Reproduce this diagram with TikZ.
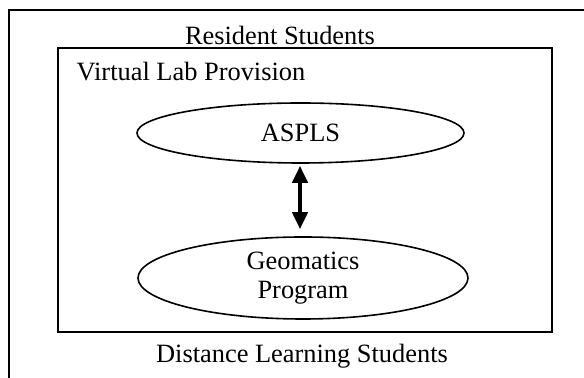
\documentclass[tikz,border=0pt]{standalone}
\usepackage{fontspec}
\setmainfont{Liberation Serif}
\usetikzlibrary{shapes.geometric,arrows.meta}

\begin{document}
\begin{tikzpicture}[x=0.5pt,y=0.5pt,yscale=-1,xscale=1,
  font=\fontsize{13.2}{14.5}\selectfont,
  oval/.style={draw,ellipse,line width=0.8pt,inner sep=0pt,align=center}]
\useasboundingbox (0,0) rectangle (584,378);

%Shape: Rectangle (outer, cut off at right and bottom)
\begin{scope}
\clip (0,0) rectangle (584,378);
\draw [line width=1.1pt] (9,10) rectangle (600,400);
\end{scope}
%Shape: Rectangle (inner)
\draw [line width=1.1pt] (58,48) rectangle (552,332);

%Shape: Ellipse
\node [oval,minimum width=163.5pt,minimum height=30pt] (aspls) at (300.5,133) {ASPLS};
%Shape: Ellipse
\node [oval,minimum width=165pt,minimum height=41pt,yshift=-1pt] (geo) at (303,276) {Geomatics\\Program};

%Straight Lines
\draw [line width=2pt,{Triangle[width=7.5pt,length=8.5pt]}-{Triangle[width=7.5pt,length=8.5pt]},shorten <=1pt,shorten >=3.5pt] ([xshift=-0.25pt]aspls.south) -- ([xshift=-0.25pt]aspls.south |- geo.north);

% Text Node
\draw (280,35) node (resident) {Resident Students};
% Text Node
\draw (191,72) node (virtual) {Virtual Lab Provision};
% Text Node
\draw (302,356) node (distance) {Distance Learning Students};

\end{tikzpicture}
\end{document}
